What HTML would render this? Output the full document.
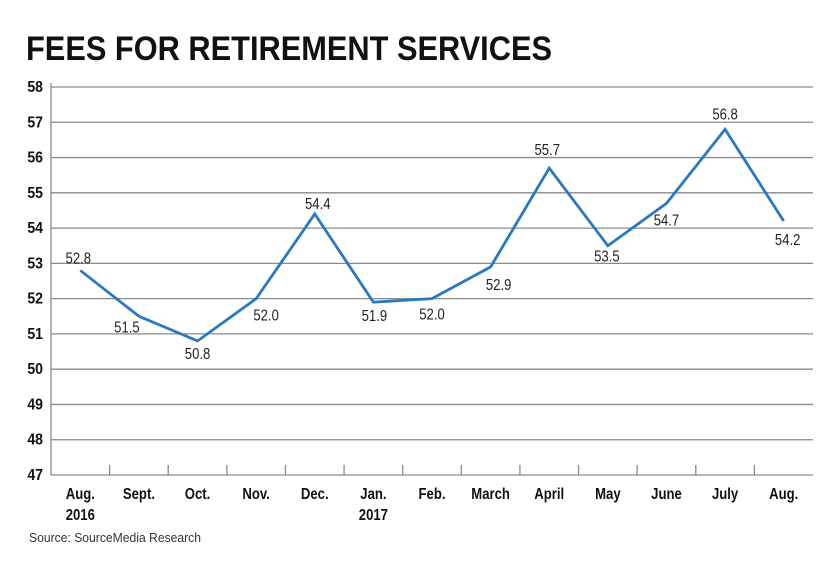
<!DOCTYPE html>
<html><head><meta charset="utf-8"><style>
body{margin:0;background:#fff;width:840px;height:570px;overflow:hidden;font-family:"Liberation Sans",sans-serif;}
</style></head><body>
<svg width="840" height="570">
<text x="26" y="60" font-size="34" font-weight="bold" fill="#111" textLength="526" lengthAdjust="spacingAndGlyphs">FEES FOR RETIREMENT SERVICES</text>
<g id="grid"></g><g id="xaxis"></g><g id="series"></g>
<text x="29" y="542" font-size="13" fill="#333" textLength="172" lengthAdjust="spacingAndGlyphs">Source: SourceMedia Research</text>
</svg>
<script>
const categories=["Aug.|2016","Sept.","Oct.","Nov.","Dec.","Jan.|2017","Feb.","March","April","May","June","July","Aug."];
const values=[52.8,51.5,50.8,52.0,54.4,51.9,52.0,52.9,55.7,53.5,54.7,56.8,54.2];
const labels=["52.8","51.5","50.8","52.0","54.4","51.9","52.0","52.9","55.7","53.5","54.7","56.8","54.2"];
const yTicks=[47,48,49,50,51,52,53,54,55,56,57,58];
const ns="http://www.w3.org/2000/svg";
const L=51,R=813,T=87,B=475,yMin=47,yMax=58;
const y=v=>B-(v-yMin)/(yMax-yMin)*(B-T);
const step=(R-L)/categories.length;
const x=i=>L+step*(i+0.5);
// label offsets (style, relative to point)
const ldx=[-2,-12,0,10,3,1,0,8,-2,-1,0,0,4];
const ldy=[-7,16,18,22,-5,19,21,23,-13,16,22,-10,24];
function mk(t,a,p,txt){const e=document.createElementNS(ns,t);for(const k in a)e.setAttribute(k,a[k]);if(txt!=null)e.textContent=txt;p.appendChild(e);return e;}
function txt(p,tx,ty,str,size,bold,anchor,fill,sx){return mk('text',{transform:`translate(${tx},${ty}) scale(${sx},1)`,x:0,y:0,'font-size':size,'font-weight':bold?'bold':'normal','text-anchor':anchor,fill:fill},p,str);}
const g=document.getElementById('grid');
yTicks.forEach(v=>{
 const ln=mk('line',{x1:L,x2:R,y1:y(v),y2:y(v),stroke:'#8a8a8a','stroke-width':1.3},g);
 
 
 const t=txt(g,43,y(v)+5,String(v),16,true,'end','#111',0.88);
 
 
});
mk('line',{x1:L,x2:L,y1:T-4,y2:B,stroke:'#8a8a8a','stroke-width':1.3},g);
const xa=document.getElementById('xaxis');
categories.forEach((c,i)=>{
 if(i>0){const tk=mk('line',{x1:L+step*i,x2:L+step*i,y1:B-10,y2:B,stroke:'#8a8a8a','stroke-width':1.3},xa);
 
 }
 c.split('|').forEach((p,j)=>{const t=txt(xa,x(i),499+j*21,p,16,true,'middle','#111',0.82);
 
 });
});
const s=document.getElementById('series');
const pl=mk('polyline',{points:values.map((v,i)=>x(i)+','+y(v)).join(' '),fill:'none',stroke:'#2a78c0','stroke-width':2.8,'stroke-linejoin':'miter'},s);


values.forEach((v,i)=>{
 const t=txt(s,x(i)+ldx[i],y(v)+ldy[i],labels[i],16,false,'middle','#222',0.82);
 
 
});
</script>
</body></html>
